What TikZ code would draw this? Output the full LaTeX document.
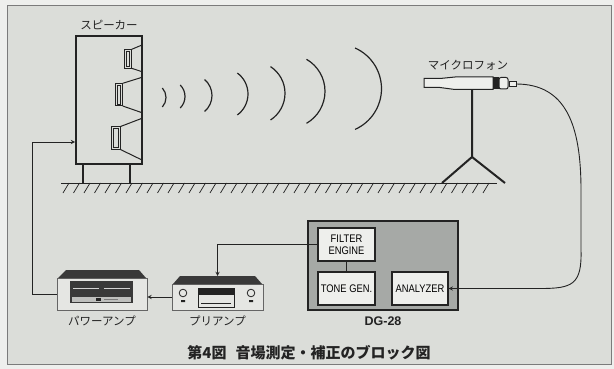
\documentclass[tikz,border=0pt]{standalone}
\usepackage{fontspec}
\usetikzlibrary{positioning}
\newfontfamily\jp{Noto Sans CJK JP}
\newfontfamily\boxfont[FakeStretch=0.85]{Liberation Sans}
\newfontfamily\tagfont{Liberation Sans}
\definecolor{paper}{RGB}{219,221,217}
\definecolor{margin}{RGB}{238,239,237}
\definecolor{dgfill}{RGB}{166,169,166}
\definecolor{boxfill}{RGB}{238,239,236}
\definecolor{facefill}{RGB}{229,230,227}
\definecolor{ink}{RGB}{35,35,35}
\tikzset{
  block/.style={draw=ink,line width=1.3,fill=boxfill,inner sep=0,minimum width=57,minimum height=33,align=center,font=\boxfont\fontsize{11}{12}\selectfont},
  face/.style={draw=ink!70,line width=0.8,fill=facefill,inner sep=0},
  caption/.style={font=\jp\fontsize{11.5}{12}\selectfont,text=ink},
  wire/.style={draw=ink,line width=0.9},
}
\begin{document}
\begin{tikzpicture}[x=1pt,y=-1pt]
\useasboundingbox (0,0) rectangle (614,369);
\fill[margin] (0,0) rectangle (614,369);
\filldraw[fill=paper,draw=ink!60,line width=0.8] (7,5) rectangle (611,364);

% speaker
\node[draw=ink,line width=2,minimum width=66,minimum height=128,inner sep=0] (spk) at (109,100) {};
\node[caption,above=2pt of spk] (spklabel) {スピーカー};
\foreach \xa/\xb/\ya/\yb/\ht/\hb in {124/131.7/49.3/68.3/45/71.7,115/122.7/83.3/106/77.3/112.7,111.7/120/126.7/149.3/118.3/160}{
  \draw[ink,line width=1] (\xa,\ya) rectangle (\xb,\yb);
  \draw[ink,line width=0.6] (\xa+2,\ya+2) rectangle (\xb-2,\yb-2);
  \draw[ink,line width=1] (\xb,\ya) -- (142,\ht) (\xb,\yb) -- (142,\hb);
}
\draw[ink,line width=1.5] (83,164) -- (83,183) (130,164) -- (130,183);
\coordinate (spkin) at (75,142);

% sound waves
\foreach \xr/\yc/\h/\t in {166/97.5/9.5/42,185/96.5/11.5/45,212/95.5/16/50,248/94/21/54,285/93.3/26.7/57,325/91.3/32/60,381.5/88.7/40.7/66}{
  \pgfmathsetmacro\r{\h/sin(\t)}
  \draw[ink,line width=1.2] (\xr,\yc) arc (0:\t:\r) (\xr,\yc) arc (0:-\t:\r);
}

% floor
\draw[ink,line width=1] (61,183) -- (497,183);
\foreach \x in {63,73.5,...,490}
  \draw[ink,line width=0.7] (\x,193) -- (\x+6,183);

% microphone on its stand
\node[caption] (miclabel) at (468,65) {マイクロフォン};
\draw[ink,line width=2] (472,89.5) -- (472,157) -- (442,183) (472,157) -- (505,183);
\filldraw[fill=boxfill,draw=ink,line width=1] (424,78.5) -- (440,78.5) -- (455,77) -- (493,77) -- (493,89.5) -- (455,89.5) -- (440,87.5) -- (424,87.5) -- cycle;
\fill[ink] (493,77) rectangle (499,89.5);
\filldraw[fill=boxfill,draw=ink,line width=1,rounded corners=2] (499,77.5) rectangle (508,89);
\filldraw[fill=boxfill,draw=ink,line width=0.9] (509,81.5) rectangle (516,86.5);
\coordinate (micplug) at (516,84);

% DG-28
\node[draw=ink,line width=1.3,fill=dgfill,minimum width=150,minimum height=89,inner sep=0] (dg) at (383,265.5) {};
\node[block] (filter) at (346.5,244.5) {FILTER\\ENGINE};
\node[block] (tone) at (346.5,288.5) {TONE GEN.};
\node[block,minimum width=56] (analyzer) at (420,288.5) {ANALYZER};
\node[font=\tagfont\bfseries\fontsize{12.5}{13}\selectfont,text=ink,below=3pt of dg] (dglabel) {DG-28};
\draw[wire] (filter) -- (tone);

% preamp
\node[face,minimum width=91,minimum height=26] (pre) at (217.5,297) {};
\fill[ink!90] (173,284) -- (180,276) -- (255,276) -- (262,284) -- cycle;
\coordinate (pretop) at (217.5,276);
\filldraw[fill=facefill,draw=ink,line width=0.8] (183,293) circle (3.8) (251,293) circle (3.8);
\fill[ink] (181,300) rectangle (185,302) (249,300) rectangle (253,302);
\draw[ink,line width=0.8] (198,288) rectangle (234,307);
\fill[ink] (198,288) rectangle (234,295);
\draw[ink,line width=0.6] (201,303) -- (231,303);
\node[caption,below=2pt of pre] (prelabel) {プリアンプ};

% power amp
\node[face,minimum width=90,minimum height=32] (pwr) at (102,294) {};
\fill[ink!90] (58,278) -- (66,270) -- (139,270) -- (146,278) -- cycle;
\fill[ink!90] (70,281) rectangle (133,303);
\fill[facefill!80!ink] (72,297) rectangle (131,301.5);
\draw[white!80!ink,line width=1] (73,288) -- (99,288) (104,288) -- (130,288);
\fill[ink] (96,298) rectangle (101,300.5);
\draw[ink!60,line width=0.5] (104,299.3) -- (118,299.3);
\node[caption,below=2pt of pwr] (pwrlabel) {パワーアンプ};

% signal path
\draw[wire,-stealth] (filter.west) -| (pretop);
\draw[wire,-stealth] (pre.west) -- (pre.west -| pwr.east);
\draw[wire,-stealth] (pwr.west) -- ++(-24,0) |- (spkin);
\draw[wire,-stealth] (micplug) .. controls (566,84) and (581,125) .. (581,190) -- (581,250) .. controls (582,285) and (572,288.5) .. (540,288.5) -- (analyzer.east);

\node[font=\jp\bfseries\fontsize{15}{16}\selectfont,text=ink] (title) at (309,353) {第4図\hspace{0.6em}音場測定・補正のブロック図};
\end{tikzpicture}
\end{document}
